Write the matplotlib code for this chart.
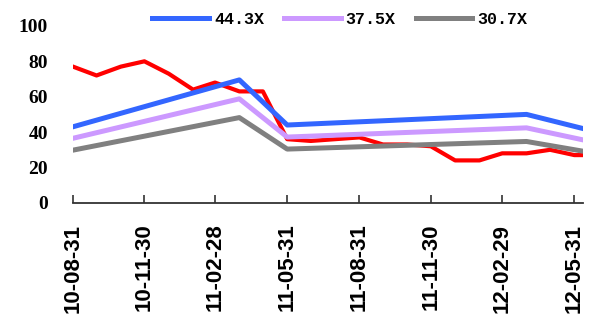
import numpy as np
import pandas as pd
import matplotlib
matplotlib.use("Agg")
import matplotlib.pyplot as plt
import matplotlib.dates as mdates

# monthly price series
price_dates = pd.to_datetime([
    "2010-08-31", "2010-09-30", "2010-10-31", "2010-11-30", "2010-12-31",
    "2011-01-31", "2011-02-28", "2011-03-31", "2011-04-30", "2011-05-31",
    "2011-06-30", "2011-07-31", "2011-08-31", "2011-09-30", "2011-10-31",
    "2011-11-30", "2011-12-31", "2012-01-31", "2012-02-29", "2012-03-31",
    "2012-04-30", "2012-05-31", "2012-06-11"])
price = [77, 72, 77, 80, 73, 64, 68, 63, 63, 36, 35, 36, 37, 33, 33,
         32, 24, 24, 28, 28, 30, 27, 27]

# PE band lines
band_dates = pd.to_datetime(["2010-08-31", "2011-03-31", "2011-05-31",
                             "2012-03-31", "2012-06-11"])
band_443 = [43.0, 69.5, 44.0, 50.0, 42.0]
band_375 = [36.5, 58.8, 37.2, 42.4, 35.6]
band_307 = [29.8, 48.2, 30.4, 34.7, 29.2]

tick_dates = pd.to_datetime(["2010-08-31", "2010-11-30", "2011-02-28",
                             "2011-05-31", "2011-08-31", "2011-11-30",
                             "2012-02-29", "2012-05-31"])
tick_labels = ["10-08-31", "10-11-30", "11-02-28", "11-05-31",
               "11-08-31", "11-11-30", "12-02-29", "12-05-31"]

fig = plt.figure(figsize=(5.91, 3.2), dpi=100)
ax = fig.add_axes([0.1235, 0.366, 0.863, 0.553])

ax.plot(price_dates, price, color="#ff0000", lw=3.0, zorder=2)
ax.plot(band_dates, band_443, color="#3366ff", lw=3.6, label="44.3X", zorder=3)
ax.plot(band_dates, band_375, color="#cc99ff", lw=3.6, label="37.5X", zorder=3)
ax.plot(band_dates, band_307, color="#808080", lw=3.6, label="30.7X", zorder=3)

ax.set_xlim(price_dates[0], price_dates[-1])
ax.set_ylim(0, 100)
ax.set_yticks(range(0, 101, 20))

for s in ["top", "right", "left"]:
    ax.spines[s].set_visible(False)
ax.spines["bottom"].set_color("#333333")
ax.spines["bottom"].set_linewidth(1.3)

ax.set_xticks(tick_dates)
ax.set_xticklabels(tick_labels, rotation=90, fontsize=16,
                   fontweight="bold", family="Liberation Sans")
ax.tick_params(axis="x", direction="in", length=6, width=1.2,
               color="#333333", pad=15)
ax.tick_params(axis="y", length=0, pad=18)
for t in ax.get_yticklabels():
    t.set_fontsize(14)
    t.set_fontweight("bold")
    t.set_family("Liberation Serif")

fig.legend(loc="center", bbox_to_anchor=(0.575, 0.94), ncol=3, frameon=False,
           prop={"family": "Liberation Mono", "weight": "bold", "size": 12},
           handlelength=3.4, handletextpad=0.3, columnspacing=1.2)

fig.savefig("out.png", dpi=100)
